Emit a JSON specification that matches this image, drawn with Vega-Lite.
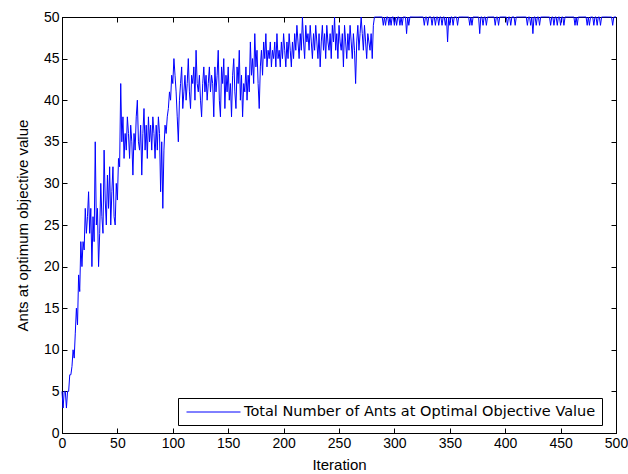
{
"$schema":"https://vega.github.io/schema/vega-lite/v6.json",
"width":554,"height":416,
"autosize":"none",
"padding":{"left":62,"top":17,"right":12,"bottom":41},
"background":"white",
"data":{"values":[
{"i":0,"v":5},{"i":1,"v":3},{"i":2,"v":5},{"i":3,"v":5},{"i":4,"v":3},{"i":5,"v":5},{"i":6,"v":5},{"i":7,"v":7},{"i":8,"v":7},{"i":9,"v":8},
{"i":10,"v":10},{"i":11,"v":9},{"i":12,"v":12},{"i":13,"v":15},{"i":14,"v":13},{"i":15,"v":19},{"i":16,"v":17},{"i":17,"v":23},{"i":18,"v":20},{"i":19,"v":23},
{"i":20,"v":22},{"i":21,"v":27},{"i":22,"v":24},{"i":23,"v":26},{"i":24,"v":29},{"i":25,"v":24},{"i":26,"v":27},{"i":27,"v":20},{"i":28,"v":26},{"i":29,"v":23},
{"i":30,"v":35},{"i":31,"v":25},{"i":32,"v":27},{"i":33,"v":20},{"i":34,"v":24},{"i":35,"v":30},{"i":36,"v":26},{"i":37,"v":24},{"i":38,"v":34},{"i":39,"v":28},
{"i":40,"v":25},{"i":41,"v":31},{"i":42,"v":27},{"i":43,"v":32},{"i":44,"v":25},{"i":45,"v":29},{"i":46,"v":32},{"i":47,"v":26},{"i":48,"v":25},{"i":49,"v":30},
{"i":50,"v":28},{"i":51,"v":33},{"i":52,"v":32},{"i":53,"v":42},{"i":54,"v":35},{"i":55,"v":38},{"i":56,"v":33},{"i":57,"v":36},{"i":58,"v":34},{"i":59,"v":38},
{"i":60,"v":36},{"i":61,"v":33},{"i":62,"v":37},{"i":63,"v":35},{"i":64,"v":31},{"i":65,"v":36},{"i":66,"v":34},{"i":67,"v":38},{"i":68,"v":40},{"i":69,"v":35},
{"i":70,"v":34},{"i":71,"v":37},{"i":72,"v":31},{"i":73,"v":36},{"i":74,"v":39},{"i":75,"v":34},{"i":76,"v":37},{"i":77,"v":33},{"i":78,"v":38},{"i":79,"v":35},
{"i":80,"v":37},{"i":81,"v":34},{"i":82,"v":38},{"i":83,"v":36},{"i":84,"v":33},{"i":85,"v":37},{"i":86,"v":34},{"i":87,"v":38},{"i":88,"v":36},{"i":89,"v":29},
{"i":90,"v":35},{"i":91,"v":27},{"i":92,"v":34},{"i":93,"v":37},{"i":94,"v":36},{"i":95,"v":38},{"i":96,"v":39},{"i":97,"v":41},{"i":98,"v":40},{"i":99,"v":43},
{"i":100,"v":42},{"i":101,"v":45},{"i":102,"v":43},{"i":103,"v":41},{"i":104,"v":38},{"i":105,"v":35},{"i":106,"v":40},{"i":107,"v":42},{"i":108,"v":44},{"i":109,"v":39},
{"i":110,"v":41},{"i":111,"v":43},{"i":112,"v":40},{"i":113,"v":42},{"i":114,"v":45},{"i":115,"v":41},{"i":116,"v":39},{"i":117,"v":43},{"i":118,"v":42},{"i":119,"v":44},
{"i":120,"v":40},{"i":121,"v":46},{"i":122,"v":42},{"i":123,"v":41},{"i":124,"v":43},{"i":125,"v":40},{"i":126,"v":38},{"i":127,"v":42},{"i":128,"v":44},{"i":129,"v":41},
{"i":130,"v":43},{"i":131,"v":40},{"i":132,"v":42},{"i":133,"v":44},{"i":134,"v":41},{"i":135,"v":43},{"i":136,"v":42},{"i":137,"v":38},{"i":138,"v":44},{"i":139,"v":41},
{"i":140,"v":43},{"i":141,"v":46},{"i":142,"v":40},{"i":143,"v":38},{"i":144,"v":44},{"i":145,"v":42},{"i":146,"v":45},{"i":147,"v":39},{"i":148,"v":43},{"i":149,"v":41},
{"i":150,"v":44},{"i":151,"v":40},{"i":152,"v":42},{"i":153,"v":38},{"i":154,"v":43},{"i":155,"v":45},{"i":156,"v":41},{"i":157,"v":39},{"i":158,"v":44},{"i":159,"v":42},
{"i":160,"v":46},{"i":161,"v":40},{"i":162,"v":43},{"i":163,"v":38},{"i":164,"v":42},{"i":165,"v":41},{"i":166,"v":44},{"i":167,"v":40},{"i":168,"v":43},{"i":169,"v":41},
{"i":170,"v":47},{"i":171,"v":43},{"i":172,"v":45},{"i":173,"v":42},{"i":174,"v":48},{"i":175,"v":44},{"i":176,"v":46},{"i":177,"v":42},{"i":178,"v":39},{"i":179,"v":44},
{"i":180,"v":46},{"i":181,"v":43},{"i":182,"v":47},{"i":183,"v":45},{"i":184,"v":48},{"i":185,"v":44},{"i":186,"v":46},{"i":187,"v":45},{"i":188,"v":47},{"i":189,"v":44},
{"i":190,"v":46},{"i":191,"v":45},{"i":192,"v":47},{"i":193,"v":44},{"i":194,"v":48},{"i":195,"v":45},{"i":196,"v":46},{"i":197,"v":44},{"i":198,"v":47},{"i":199,"v":45},
{"i":200,"v":48},{"i":201,"v":46},{"i":202,"v":44},{"i":203,"v":47},{"i":204,"v":45},{"i":205,"v":48},{"i":206,"v":46},{"i":207,"v":44},{"i":208,"v":47},{"i":209,"v":45},
{"i":210,"v":48},{"i":211,"v":46},{"i":212,"v":49},{"i":213,"v":47},{"i":214,"v":45},{"i":215,"v":48},{"i":216,"v":46},{"i":217,"v":50},{"i":218,"v":47},{"i":219,"v":45},
{"i":220,"v":49},{"i":221,"v":47},{"i":222,"v":48},{"i":223,"v":46},{"i":224,"v":49},{"i":225,"v":47},{"i":226,"v":45},{"i":227,"v":48},{"i":228,"v":46},{"i":229,"v":49},
{"i":230,"v":47},{"i":231,"v":45},{"i":232,"v":48},{"i":233,"v":44},{"i":234,"v":47},{"i":235,"v":49},{"i":236,"v":46},{"i":237,"v":48},{"i":238,"v":45},{"i":239,"v":49},
{"i":240,"v":47},{"i":241,"v":46},{"i":242,"v":48},{"i":243,"v":45},{"i":244,"v":49},{"i":245,"v":47},{"i":246,"v":50},{"i":247,"v":46},{"i":248,"v":48},{"i":249,"v":45},
{"i":250,"v":49},{"i":251,"v":47},{"i":252,"v":46},{"i":253,"v":48},{"i":254,"v":44},{"i":255,"v":49},{"i":256,"v":47},{"i":257,"v":45},{"i":258,"v":48},{"i":259,"v":46},
{"i":260,"v":49},{"i":261,"v":47},{"i":262,"v":45},{"i":263,"v":48},{"i":264,"v":46},{"i":265,"v":42},{"i":266,"v":47},{"i":267,"v":49},{"i":268,"v":46},{"i":269,"v":48},
{"i":270,"v":50},{"i":271,"v":48},{"i":272,"v":46},{"i":273,"v":49},{"i":274,"v":47},{"i":275,"v":45},{"i":276,"v":48},{"i":277,"v":47},{"i":278,"v":46},{"i":279,"v":48},
{"i":280,"v":45},{"i":281,"v":49},{"i":282,"v":50},{"i":283,"v":50},{"i":284,"v":50},{"i":285,"v":50},{"i":286,"v":50},{"i":287,"v":50},{"i":288,"v":50},{"i":289,"v":50},
{"i":290,"v":49},{"i":291,"v":50},{"i":292,"v":49},{"i":293,"v":50},{"i":294,"v":50},{"i":295,"v":49},{"i":296,"v":50},{"i":297,"v":49},{"i":298,"v":50},{"i":299,"v":50},
{"i":300,"v":49},{"i":301,"v":50},{"i":302,"v":49},{"i":303,"v":50},{"i":304,"v":50},{"i":305,"v":49},{"i":306,"v":50},{"i":307,"v":49},{"i":308,"v":50},{"i":309,"v":50},
{"i":310,"v":50},{"i":311,"v":48},{"i":312,"v":50},{"i":313,"v":49},{"i":314,"v":50},{"i":315,"v":50},{"i":316,"v":50},{"i":317,"v":50},{"i":318,"v":50},{"i":319,"v":50},
{"i":320,"v":50},{"i":321,"v":50},{"i":322,"v":50},{"i":323,"v":50},{"i":324,"v":50},{"i":325,"v":50},{"i":326,"v":50},{"i":327,"v":49},{"i":328,"v":50},{"i":329,"v":50},
{"i":330,"v":49},{"i":331,"v":50},{"i":332,"v":50},{"i":333,"v":50},{"i":334,"v":49},{"i":335,"v":50},{"i":336,"v":50},{"i":337,"v":49},{"i":338,"v":50},{"i":339,"v":50},
{"i":340,"v":49},{"i":341,"v":50},{"i":342,"v":50},{"i":343,"v":49},{"i":344,"v":50},{"i":345,"v":50},{"i":346,"v":49},{"i":347,"v":50},{"i":348,"v":47},{"i":349,"v":50},
{"i":350,"v":49},{"i":351,"v":50},{"i":352,"v":50},{"i":353,"v":49},{"i":354,"v":50},{"i":355,"v":50},{"i":356,"v":50},{"i":357,"v":49},{"i":358,"v":50},{"i":359,"v":50},
{"i":360,"v":50},{"i":361,"v":50},{"i":362,"v":50},{"i":363,"v":50},{"i":364,"v":50},{"i":365,"v":50},{"i":366,"v":50},{"i":367,"v":50},{"i":368,"v":49},{"i":369,"v":50},
{"i":370,"v":49},{"i":371,"v":50},{"i":372,"v":50},{"i":373,"v":50},{"i":374,"v":50},{"i":375,"v":50},{"i":376,"v":50},{"i":377,"v":48},{"i":378,"v":50},{"i":379,"v":50},
{"i":380,"v":49},{"i":381,"v":50},{"i":382,"v":50},{"i":383,"v":49},{"i":384,"v":50},{"i":385,"v":50},{"i":386,"v":50},{"i":387,"v":50},{"i":388,"v":50},{"i":389,"v":50},
{"i":390,"v":50},{"i":391,"v":49},{"i":392,"v":50},{"i":393,"v":50},{"i":394,"v":49},{"i":395,"v":50},{"i":396,"v":50},{"i":397,"v":50},{"i":398,"v":50},{"i":399,"v":50},
{"i":400,"v":50},{"i":401,"v":50},{"i":402,"v":49},{"i":403,"v":50},{"i":404,"v":50},{"i":405,"v":49},{"i":406,"v":50},{"i":407,"v":50},{"i":408,"v":50},{"i":409,"v":49},
{"i":410,"v":50},{"i":411,"v":50},{"i":412,"v":50},{"i":413,"v":50},{"i":414,"v":50},{"i":415,"v":50},{"i":416,"v":50},{"i":417,"v":50},{"i":418,"v":50},{"i":419,"v":50},
{"i":420,"v":49},{"i":421,"v":50},{"i":422,"v":50},{"i":423,"v":49},{"i":424,"v":50},{"i":425,"v":48},{"i":426,"v":50},{"i":427,"v":50},{"i":428,"v":49},{"i":429,"v":50},
{"i":430,"v":50},{"i":431,"v":49},{"i":432,"v":50},{"i":433,"v":50},{"i":434,"v":50},{"i":435,"v":50},{"i":436,"v":50},{"i":437,"v":50},{"i":438,"v":50},{"i":439,"v":50},
{"i":440,"v":50},{"i":441,"v":49},{"i":442,"v":50},{"i":443,"v":50},{"i":444,"v":49},{"i":445,"v":50},{"i":446,"v":50},{"i":447,"v":49},{"i":448,"v":50},{"i":449,"v":50},
{"i":450,"v":49},{"i":451,"v":50},{"i":452,"v":50},{"i":453,"v":49},{"i":454,"v":50},{"i":455,"v":50},{"i":456,"v":50},{"i":457,"v":50},{"i":458,"v":50},{"i":459,"v":50},
{"i":460,"v":50},{"i":461,"v":50},{"i":462,"v":50},{"i":463,"v":49},{"i":464,"v":50},{"i":465,"v":49},{"i":466,"v":50},{"i":467,"v":50},{"i":468,"v":50},{"i":469,"v":50},
{"i":470,"v":50},{"i":471,"v":50},{"i":472,"v":50},{"i":473,"v":50},{"i":474,"v":49},{"i":475,"v":50},{"i":476,"v":49},{"i":477,"v":50},{"i":478,"v":50},{"i":479,"v":50},
{"i":480,"v":49},{"i":481,"v":50},{"i":482,"v":50},{"i":483,"v":49},{"i":484,"v":50},{"i":485,"v":50},{"i":486,"v":49},{"i":487,"v":50},{"i":488,"v":50},{"i":489,"v":50},
{"i":490,"v":50},{"i":491,"v":50},{"i":492,"v":50},{"i":493,"v":50},{"i":494,"v":50},{"i":495,"v":50},{"i":496,"v":50},{"i":497,"v":49},{"i":498,"v":50},{"i":499,"v":50},
{"i":500,"v":50}
]},
"layer":[
{"mark":{"type":"line","strokeWidth":1,"interpolate":"linear"},
 "encoding":{
  "x":{"field":"i","type":"quantitative","scale":{"domain":[0,500],"nice":false},
       "axis":{"orient":"bottom","title":"Iteration","values":[0,50,100,150,200,250,300,350,400,450,500],"labelPadding":8,"titlePadding":7,"labelFlush":false}},
  "y":{"field":"v","type":"quantitative","scale":{"domain":[0,50],"nice":false},
       "axis":{"orient":"left","title":"Ants at optimum objective value","values":[0,5,10,15,20,25,30,35,40,45,50],"labelPadding":8,"titlePadding":13}},
  "color":{"datum":"Total Number of Ants at Optimal Objective Value","type":"nominal","scale":{"range":["#0000ff"]},
       "legend":{"title":null,"orient":"none","legendX":116,"legendY":381,"strokeColor":"#000","fillColor":"#fff","padding":6,"symbolType":"M-3.6,0H3.6","symbolSize":225,"symbolStrokeWidth":1,"symbolOffset":21.5,"labelOffset":22.5,"labelFont":"DejaVu Sans","labelFontSize":14.5,"labelColor":"#000","labelLimit":500}}
 }},
{"mark":{"type":"line","strokeOpacity":0},
 "encoding":{
  "x":{"field":"i","type":"quantitative","axis":{"orient":"top","title":null,"labels":false,"values":[0,50,100,150,200,250,300,350,400,450,500]}},
  "y":{"field":"v","type":"quantitative","axis":{"orient":"right","title":null,"labels":false,"values":[0,5,10,15,20,25,30,35,40,45,50]}}
 }}
],
"resolve":{"axis":{"x":"independent","y":"independent"}},
"config":{
 "view":{"stroke":"#000","strokeWidth":1},
 "axis":{"grid":false,"domainColor":"#000","tickColor":"#000","labelColor":"#000","titleColor":"#000","labelFont":"Liberation Sans","titleFont":"Liberation Sans","labelFontSize":14,"titleFontSize":15,"titleFontWeight":"normal","tickSize":-5,"domainWidth":1,"tickWidth":1}
}
}
